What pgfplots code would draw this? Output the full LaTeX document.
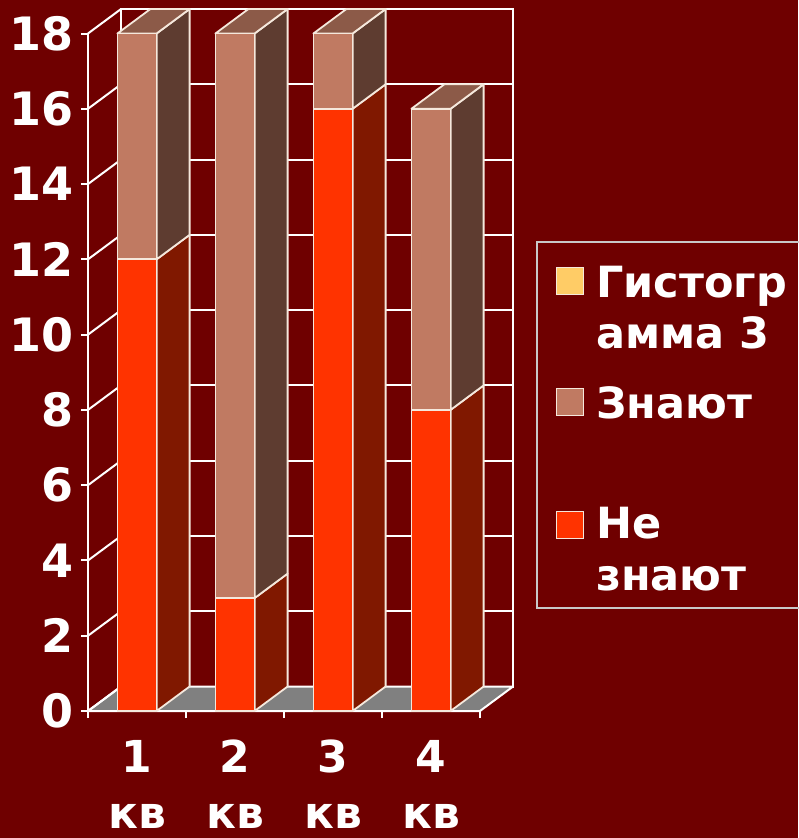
\documentclass[border=0pt]{standalone}
\usepackage{fontspec}
\setmainfont{DejaVu Sans}
\usepackage{pgfplots}
\pgfplotsset{compat=1.18}
\definecolor{bg}{RGB}{111,0,0}
\definecolor{redF}{RGB}{255,51,0}
\definecolor{redS}{RGB}{128,24,0}
\definecolor{tanF}{RGB}{192,122,98}
\definecolor{tanS}{RGB}{94,60,48}
\definecolor{tanT}{RGB}{140,90,72}
\definecolor{floorc}{RGB}{128,128,128}
\definecolor{edgec}{RGB}{245,232,220}
\definecolor{yel}{RGB}{255,204,102}
\definecolor{lgbord}{RGB}{200,200,200}
\pgfplotsset{base/.style={scale only axis, width=392pt, height=677.5pt,
  xmin=0, xmax=4, ymin=0, ymax=18, clip=false, anchor=south west, at={(88pt,-711pt)}},
  face/.style={draw=edgec, line width=1.8pt, line join=round}}
\begin{document}
\begin{tikzpicture}
\useasboundingbox (0,0) rectangle (798pt,-838pt);
\fill[bg] (0,0) rectangle (798pt,-838pt);
% back wall
\begin{axis}[base, at={(121pt,-686.5pt)},
  axis line style={white,line width=2pt},
  xtick=\empty, ytick={0,2,...,18}, yticklabels={}, major tick length=0pt,
  ymajorgrids, grid style={white,line width=2pt}]
\addplot[draw=none] coordinates {(0,0)};
\end{axis}
% front axis with floor and side faces
\begin{axis}[base,
  axis x line*=bottom, axis y line*=left,
  axis line style={white,line width=2pt},
  tick style={white,line width=2pt}, tick align=outside, major tick length=7pt,
  xtick={0,1,2,3,4}, x tick label as interval,
  xticklabels={{1\\кв},{2\\кв},{3\\кв},{4\\кв}},
  ytick={0,2,...,18},
  /pgf/number format/assume math mode=true,
  ticklabel style={white},
  y tick label style={font=\fontsize{46}{50}\selectfont\bfseries, xshift=-4pt},
  x tick label style={font=\fontsize{44}{56}\selectfont\bfseries, align=center, inner sep=0pt, yshift=-22pt}]
\addplot[fill=floorc, draw=white, line width=2pt, line join=round] coordinates {(0,0) (0.337,0.651) (4.337,0.651) (4,0)} -- cycle;
\pgfplotsinvokeforeach{0,2,...,18}{\draw[white,line width=2pt] (axis cs:0,#1) -- (axis cs:0.337,#1.651);}
% bar 1
\addplot[fill=redS, face] coordinates {(0.7,0) (1.037,0.651) (1.037,12.651) (0.7,12)} -- cycle;
\addplot[fill=tanS, face] coordinates {(0.7,12) (1.037,12.651) (1.037,18.651) (0.7,18)} -- cycle;
\addplot[fill=tanT, face] coordinates {(0.3,18) (0.637,18.651) (1.037,18.651) (0.7,18)} -- cycle;
% bar 2
\addplot[fill=redS, face] coordinates {(1.7,0) (2.037,0.651) (2.037,3.651) (1.7,3)} -- cycle;
\addplot[fill=tanS, face] coordinates {(1.7,3) (2.037,3.651) (2.037,18.651) (1.7,18)} -- cycle;
\addplot[fill=tanT, face] coordinates {(1.3,18) (1.637,18.651) (2.037,18.651) (1.7,18)} -- cycle;
% bar 3
\addplot[fill=redS, face] coordinates {(2.7,0) (3.037,0.651) (3.037,16.651) (2.7,16)} -- cycle;
\addplot[fill=tanS, face] coordinates {(2.7,16) (3.037,16.651) (3.037,18.651) (2.7,18)} -- cycle;
\addplot[fill=tanT, face] coordinates {(2.3,18) (2.637,18.651) (3.037,18.651) (2.7,18)} -- cycle;
% bar 4
\addplot[fill=redS, face] coordinates {(3.7,0) (4.037,0.651) (4.037,8.651) (3.7,8)} -- cycle;
\addplot[fill=tanS, face] coordinates {(3.7,8) (4.037,8.651) (4.037,16.651) (3.7,16)} -- cycle;
\addplot[fill=tanT, face] coordinates {(3.3,16) (3.637,16.651) (4.037,16.651) (3.7,16)} -- cycle;
\end{axis}
% front faces (stacked bars)
\begin{axis}[base, hide axis, ybar stacked, bar width=39pt]
\addplot[fill=redF, face] coordinates {(0.5,12) (1.5,3) (2.5,16) (3.5,8)};
\addplot[fill=tanF, face] coordinates {(0.5,6) (1.5,15) (2.5,2) (3.5,8)};
\end{axis}
% legend
\draw[lgbord, line width=1.3pt] (537pt,-242pt) rectangle (805pt,-608pt);
\filldraw[fill=yel, draw=edgec, line width=0.8pt] (556pt,-267pt) rectangle (583pt,-294pt);
\filldraw[fill=tanF, draw=edgec, line width=0.8pt] (556pt,-388pt) rectangle (583pt,-415pt);
\filldraw[fill=redF, draw=edgec, line width=0.8pt] (556pt,-511pt) rectangle (583pt,-538pt);
\begin{scope}[every node/.style={anchor=base west, inner sep=0pt, text=white, font=\fontsize{43}{52}\selectfont\bfseries}]
\node at (596pt,-297pt) {Гистогр};
\node at (596pt,-348pt) {амма 3};
\node at (596pt,-418pt) {Знают};
\node at (596pt,-538pt) {Не};
\node at (596pt,-590pt) {знают};
\end{scope}
\end{tikzpicture}
\end{document}
